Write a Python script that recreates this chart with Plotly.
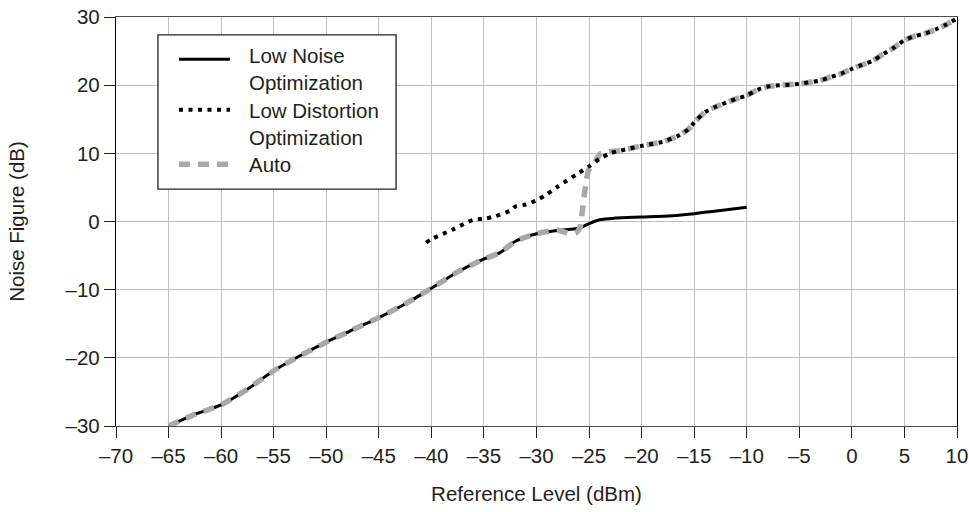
import plotly.graph_objects as go

# Low Noise Optimization (solid black)
x_ln = [-65, -62.5, -60, -57.5, -55, -52.5, -50, -47.5, -45, -42.5, -40, -37.5, -35, -33.5, -32, -30, -28, -26, -25, -24, -22.5, -20, -17.5, -15, -12.5, -10]
y_ln = [-30, -28.3, -26.9, -24.6, -21.9, -19.7, -17.7, -15.9, -14.1, -12.1, -9.8, -7.4, -5.5, -4.6, -2.9, -1.8, -1.3, -1.0, -0.3, 0.25, 0.5, 0.65, 0.8, 1.15, 1.6, 2.1]

# Low Distortion Optimization (dotted black)
x_ld = [-40.5, -40, -38, -36, -35, -34, -32.5, -32, -31, -30, -29, -28, -26, -25, -24, -23, -22, -20, -18, -16.5, -15.5, -15, -14, -13, -11, -10, -9, -8, -5, -3, -2, -1, 0, 1, 2, 3, 4, 5, 6, 7, 8, 9, 10]
y_ld = [-3.1, -2.6, -1.2, 0.25, 0.4, 0.75, 1.6, 2.2, 2.5, 3.1, 4.0, 5.1, 7.1, 8.1, 9.2, 10.0, 10.4, 11.1, 11.7, 12.6, 13.6, 14.5, 16.0, 16.8, 18.0, 18.5, 19.3, 19.8, 20.2, 20.7, 21.2, 21.7, 22.4, 23.0, 23.6, 24.6, 25.5, 26.6, 27.2, 27.6, 28.2, 28.9, 29.8]

# Auto (gray dashed)
x_auto = [-65, -62.5, -60, -57.5, -55, -52.5, -50, -47.5, -45, -42.5, -40, -37.5, -35, -33.5, -32, -30, -28, -26.8, -26.2, -25.85, -25.6, -25.3, -25.05, -24.4, -23.95, -23.3, -22, -20, -18, -16.5, -15.5, -15, -14, -13, -11, -10, -9, -8, -5, -3, -2, -1, 0, 1, 2, 3, 4, 5, 6, 7, 8, 9, 10]
y_auto = [-30, -28.3, -26.9, -24.6, -21.9, -19.7, -17.7, -15.9, -14.1, -12.1, -9.8, -7.4, -5.5, -4.6, -2.9, -1.8, -1.3, -1.8, -1.6, -0.85, 2.1, 5.6, 7.5, 8.8, 9.9, 10.2, 10.4, 11.1, 11.7, 12.6, 13.6, 14.5, 16.0, 16.8, 18.0, 18.5, 19.3, 19.8, 20.2, 20.7, 21.2, 21.7, 22.4, 23.0, 23.6, 24.6, 25.5, 26.6, 27.2, 27.6, 28.2, 28.9, 29.8]

x_ticks = [-70, -65, -60, -55, -50, -45, -40, -35, -30, -25, -20, -15, -10, -5, 0, 5, 10]
y_ticks = [-30, -20, -10, 0, 10, 20, 30]

legend_names = ["Low Noise<br>Optimization", "Low Distortion<br>Optimization", "Auto"]


def lab(v):
    return ("\u2013" + str(abs(v))) if v < 0 else str(v)


TXT = "#231f20"
FONT = "Liberation Sans, Arial, sans-serif"
FS = 20.5

styles = [
    dict(color="black", width=3, shape="spline", smoothing=0.8),
    dict(color="black", width=4, dash="4px,5.5px", shape="spline", smoothing=0.8),
    dict(color="#a7a9ac", width=5.5, dash="11px,8px", shape="spline", smoothing=0.6),
]

fig = go.Figure()
fig.add_trace(go.Scatter(x=x_ln, y=y_ln, mode="lines", name=legend_names[0],
                         line=styles[0], showlegend=False))
fig.add_trace(go.Scatter(x=x_auto, y=y_auto, mode="lines", name=legend_names[2],
                         line=styles[2], showlegend=False))
fig.add_trace(go.Scatter(x=x_ld, y=y_ld, mode="lines", name=legend_names[1],
                         line=styles[1], showlegend=False))

# Hand-drawn legend box (paper coordinates)
shapes = [dict(type="rect", xref="paper", yref="paper", x0=0.0499, x1=0.333, y0=0.579, y1=0.9562,
               line=dict(color=TXT, width=1.3), fillcolor="white", layer="above")]
annotations = []
sample_y = [0.897, 0.773, 0.640]
text_y = [0.8720, 0.7384, 0.640]
for i, nm in enumerate(legend_names):
    st = styles[i]
    ln = dict(color=st["color"], width=st["width"])
    if "dash" in st:
        ln["dash"] = st["dash"]
    shapes.append(dict(type="line", xref="paper", yref="paper", x0=0.0749, x1=0.1356,
                       y0=sample_y[i], y1=sample_y[i], line=ln, layer="above"))
    annotations.append(dict(xref="paper", yref="paper", x=0.156, y=text_y[i], text=nm,
                            showarrow=False, xanchor="left", yanchor="middle", align="left",
                            font=dict(family=FONT, size=FS, color=TXT)))

fig.update_layout(
    width=969, height=512,
    margin=dict(l=116, r=12, t=17, b=86),
    paper_bgcolor="white", plot_bgcolor="white",
    font=dict(family=FONT, size=FS, color=TXT),
    showlegend=False,
    shapes=shapes, annotations=annotations,
)
fig.update_xaxes(
    range=[-70, 10], tickvals=x_ticks, ticktext=[lab(v) for v in x_ticks],
    showgrid=True, gridcolor="#c0c0c0", gridwidth=1,
    showline=True, linecolor="#4d4d4d", linewidth=1.3, mirror=True,
    ticks="outside", ticklen=11, tickcolor="#231f20", tickwidth=1,
    zeroline=False, automargin=False,
    title=dict(text="Reference Level (dBm)", font=dict(size=FS, color=TXT), standoff=20),
    tickfont=dict(size=FS, color=TXT),
)
fig.update_yaxes(
    range=[-30, 30], tickvals=y_ticks, ticktext=[lab(v) for v in y_ticks],
    showgrid=True, gridcolor="#c0c0c0", gridwidth=1,
    showline=True, linecolor="black", linewidth=1.3, mirror=True,
    ticks="outside", ticklen=11, tickcolor="#231f20", tickwidth=1,
    zeroline=False, automargin=False,
    title=dict(text="Noise Figure (dB)", font=dict(size=FS, color=TXT), standoff=35),
    tickfont=dict(size=FS, color=TXT),
)

fig.write_html("out.html", config={"displayModeBar": False},
               post_script="document.body.style.margin='0px';document.body.style.overflow='hidden';")
